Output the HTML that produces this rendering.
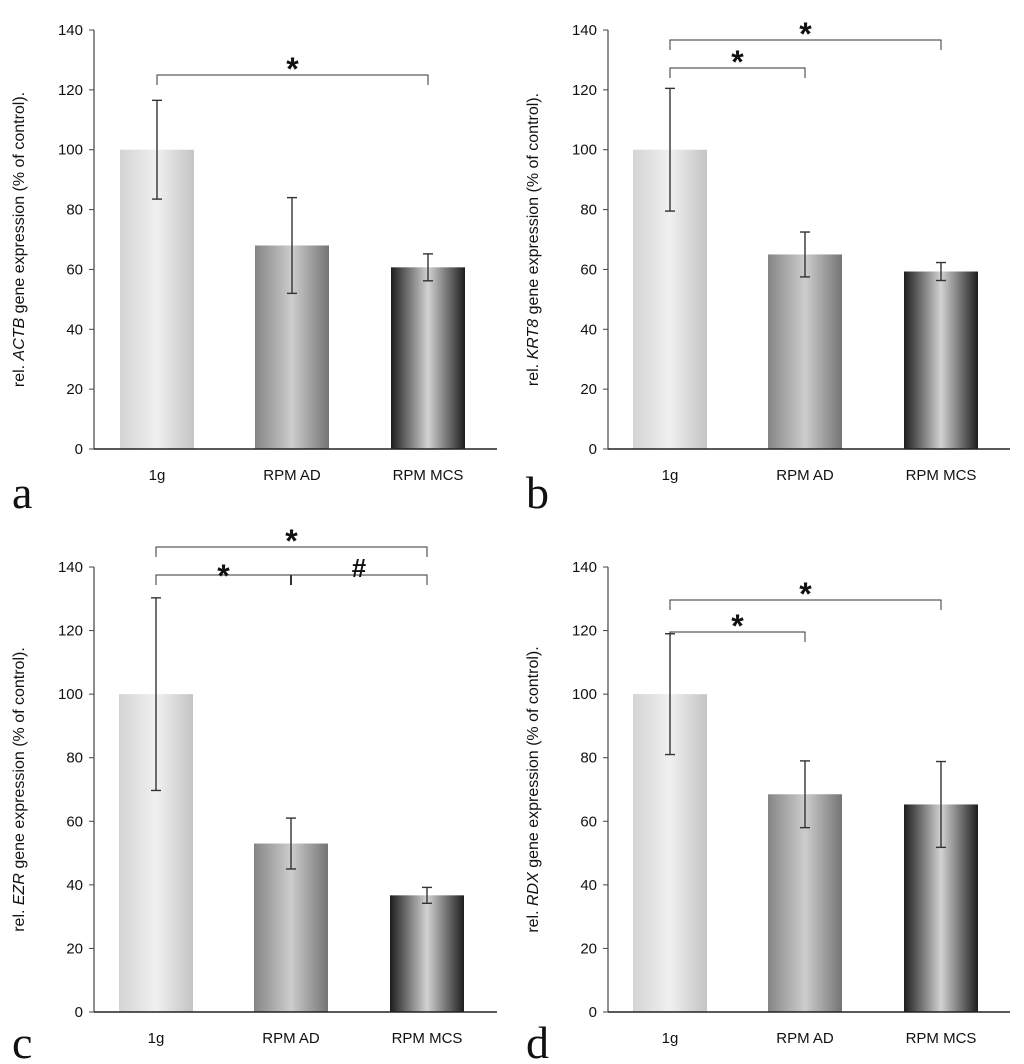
<!DOCTYPE html>
<html><head><meta charset="utf-8"><style>
body{margin:0;background:#fff;}
svg{display:block;font-family:"Liberation Sans",sans-serif;}
</style></head><body>
<svg id="c" width="1024" height="1064" viewBox="0 0 1024 1064">
<defs>
<linearGradient id="g1"><stop offset="0" stop-color="#d4d4d4"/><stop offset="0.5" stop-color="#f0f0f0"/><stop offset="1" stop-color="#c4c4c4"/></linearGradient>
<linearGradient id="g2"><stop offset="0" stop-color="#858585"/><stop offset="0.5" stop-color="#cdcdcd"/><stop offset="1" stop-color="#747474"/></linearGradient>
<linearGradient id="g3"><stop offset="0" stop-color="#1e1e1e"/><stop offset="0.5" stop-color="#d2d2d2"/><stop offset="1" stop-color="#1e1e1e"/></linearGradient>
</defs>
</svg>
<script>
const categories = ["1g","RPM AD","RPM MCS"];
const genes = ["ACTB","KRT8","EZR","RDX"];
const valuesA = [100, 68, 60.7];
const errorsA = [16.5, 16, 4.5];
const valuesB = [100, 65, 59.3];
const errorsB = [20.5, 7.5, 3];
const valuesC = [100, 53, 36.7];
const errorsC = [30.3, 8, 2.5];
const valuesD = [100, 68.5, 65.3];
const errorsD = [19, 10.5, 13.5];
const yTicks = [0,20,40,60,80,100,120,140];
const panelLetters = ["a","b","c","d"];

const svg = document.getElementById('c');
const NS = "http://www.w3.org/2000/svg";
function mk(tag, attrs, parent){
  const e = document.createElementNS(NS, tag);
  for (const k in attrs) e.setAttribute(k, attrs[k]);
  (parent||svg).appendChild(e);
  return e;
}
const panels = [
  {ax:94, y0:449, y140:30, vals:valuesA, errs:errorsA, centers:[157,292,428], xEnd:497, letterY:508},
  {ax:608, y0:449, y140:30, vals:valuesB, errs:errorsB, centers:[670,805,941], xEnd:1010, letterY:508},
  {ax:94, y0:1012, y140:567, vals:valuesC, errs:errorsC, centers:[156,291,427], xEnd:497, letterY:1058},
  {ax:608, y0:1012, y140:567, vals:valuesD, errs:errorsD, centers:[670,805,941], xEnd:1010, letterY:1058}
];
const brackets = [
  [{y:75, from:0, to:2, label:"*"}],
  [{y:40, from:0, to:2, label:"*"},{y:68, from:0, to:1, label:"*"}],
  [{y:547, from:0, to:2, label:"*"},{y:575, from:0, to:2, label:null, split:true}],
  [{y:600, from:0, to:2, label:"*"},{y:632, from:0, to:1, label:"*"}]
];
panels.forEach((p, pi) => {
  const g = mk('g', {});
  
  
  const ys = v => p.y0 - (p.y0 - p.y140) * v / 140;
  yTicks.forEach(t => {
    const tx = mk('text', {x:p.ax-11, y:ys(t)+5, 'text-anchor':'end', 'font-size':15, fill:'#111'}, g);
    tx.textContent = t;
    
    
    mk('line', {x1:p.ax-5, x2:p.ax, y1:ys(t), y2:ys(t), stroke:'#444', 'stroke-width':1}, g);
  });
  const yl = mk('line', {x1:p.ax, x2:p.ax, y1:p.y140, y2:p.y0, stroke:'#444', 'stroke-width':1.2}, g);
  
  
  const cy = (p.y0 + p.y140)/2;
  const tt = mk('text', {x:p.ax-70, y:cy, 'text-anchor':'middle', 'font-size':16, fill:'#111', transform:`rotate(-90 ${p.ax-70} ${cy})`}, g);
  
  
  tt.innerHTML = `rel. <tspan font-style="italic">${genes[pi]}</tspan> gene expression (% of control).`;
  p.vals.forEach((v, i) => {
    const c = p.centers[i], w = 74;
    const r = mk('rect', {x:c-w/2, y:ys(v), width:w, height:p.y0-ys(v), fill:`url(#g${i+1})`}, g);
    
    
    const e = p.errs[i];
    const eg = mk('g', {stroke:'#333', 'stroke-width':1.4}, g);
    
    
    mk('line', {x1:c, x2:c, y1:ys(v+e), y2:ys(v-e)}, eg);
    mk('line', {x1:c-5, x2:c+5, y1:ys(v+e), y2:ys(v+e)}, eg);
    mk('line', {x1:c-5, x2:c+5, y1:ys(v-e), y2:ys(v-e)}, eg);
    const lb = mk('text', {x:c, y:p.y0+31, 'text-anchor':'middle', 'font-size':15, fill:'#111'}, g);
    lb.textContent = categories[i];
    
    
  });
  const xl = mk('line', {x1:p.ax, x2:p.xEnd, y1:p.y0, y2:p.y0, stroke:'#222', 'stroke-width':1.5}, g);
  
  
  brackets[pi].forEach(b => {
    const x1 = p.centers[b.from], x2 = p.centers[b.to];
    const bg = mk('g', {}, g);
    
    
    mk('path', {d:`M${x1} ${b.y+10}V${b.y}H${x2}V${b.y+10}`, fill:'none', stroke:'#333', 'stroke-width':1}, bg);
    if (b.split) {
      const m = p.centers[1];
      mk('line', {x1:m, x2:m, y1:b.y, y2:b.y+10, stroke:'#333', 'stroke-width':2}, bg);
      const s1 = mk('text', {x:(x1+m)/2, y:b.y+12, 'text-anchor':'middle', 'font-size':32, 'font-weight':'bold', fill:'#111'}, bg);
      s1.textContent = '*';
      const s2 = mk('text', {x:(m+x2)/2, y:b.y+2, 'text-anchor':'middle', 'font-size':26, 'font-weight':'bold', fill:'#111'}, bg);
      s2.textContent = '#';
    } else {
      const s = mk('text', {x:(x1+x2)/2, y:b.y+5, 'text-anchor':'middle', 'font-size':32, 'font-weight':'bold', fill:'#111'}, bg);
      s.textContent = b.label;
    }
  });
  const L = mk('text', {x:p.ax-82, y:p.letterY, 'font-size':46, fill:'#111', 'font-family':'"Liberation Serif",serif'}, g);
  L.textContent = panelLetters[pi];
  
  
});
</script>
</body></html>
